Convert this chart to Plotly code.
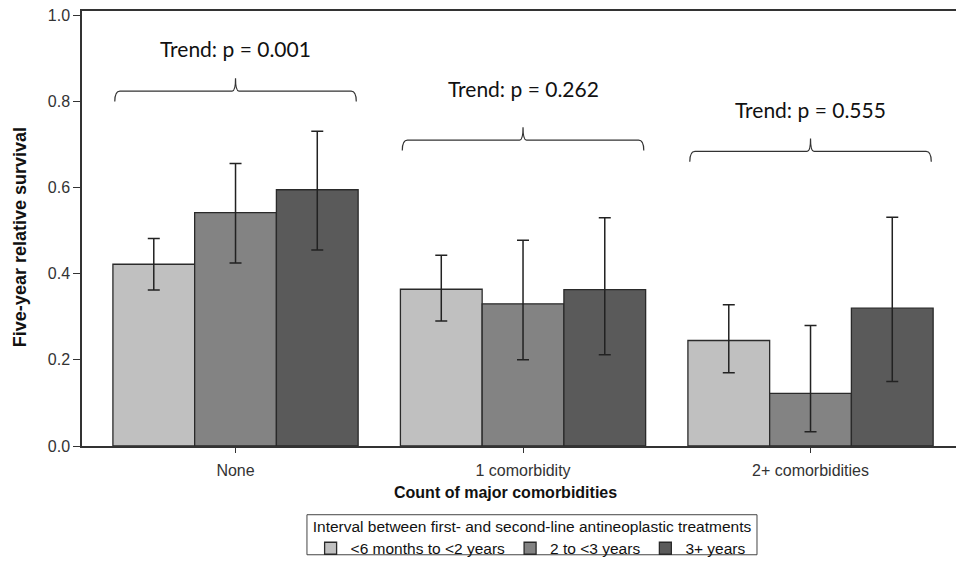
import plotly.graph_objects as go

categories = ["None", "1 comorbidity", "2+ comorbidities"]
series_names = ["<6 months to <2 years", "2 to <3 years", "3+ years"]
survival_lt2 = [0.422, 0.364, 0.245]
survival_2to3 = [0.542, 0.330, 0.122]
survival_3plus = [0.595, 0.363, 0.320]
ci_low_lt2 = [0.362, 0.290, 0.170]
ci_high_lt2 = [0.482, 0.443, 0.328]
ci_low_2to3 = [0.425, 0.200, 0.033]
ci_high_2to3 = [0.656, 0.478, 0.280]
ci_low_3plus = [0.455, 0.212, 0.150]
ci_high_3plus = [0.731, 0.530, 0.531]
trend_labels = ["Trend: p = 0.001", "Trend: p = 0.262", "Trend: p = 0.555"]
brace_levels = [0.824, 0.710, 0.684]
trend_text_levels = [0.923, 0.830, 0.782]

colors = ["#c0c0c0", "#838383", "#5a5a5a"]
AX_FONT = "Liberation Sans"

xs = list(range(len(categories)))
fig = go.Figure()
for name, vals, lo, hi, col in [
    (series_names[0], survival_lt2, ci_low_lt2, ci_high_lt2, colors[0]),
    (series_names[1], survival_2to3, ci_low_2to3, ci_high_2to3, colors[1]),
    (series_names[2], survival_3plus, ci_low_3plus, ci_high_3plus, colors[2]),
]:
    fig.add_trace(go.Bar(
        x=xs, y=vals, name=name,
        marker=dict(color=col, line=dict(color="#2a2a2a", width=1.3)),
        error_y=dict(type="data", symmetric=False,
                     array=[h - v for h, v in zip(hi, vals)],
                     arrayminus=[v - l for v, l in zip(vals, lo)],
                     color="#222222", thickness=1.5, width=6),
    ))

half = 0.42
for i, (lab, yb, yt) in enumerate(zip(trend_labels, brace_levels, trend_text_levels)):
    x0, x1, xc = i - half, i + half, i
    drop, rise, cx = 0.024, 0.03, 0.018
    path = (f"M {x0},{yb - drop} Q {x0},{yb} {x0 + cx},{yb} "
            f"L {xc - 0.012},{yb} Q {xc},{yb} {xc},{yb + rise} "
            f"Q {xc},{yb} {xc + 0.012},{yb} "
            f"L {x1 - cx},{yb} Q {x1},{yb} {x1},{yb - drop}")
    fig.add_shape(type="path", path=path, xref="x", yref="y",
                  line=dict(color="#333333", width=1.2))
    fig.add_annotation(x=xc, y=yt, xref="x", yref="y", text=lab,
                       showarrow=False,
                       font=dict(family="Lato", size=21, color="#111111"))

# axis titles placed as annotations to match the reference positions
fig.add_annotation(x=0.485, y=-0.108, xref="paper", yref="paper",
                   text="<b>Count of major comorbidities</b>", showarrow=False,
                   xanchor="center", yanchor="middle",
                   font=dict(family=AX_FONT, size=16, color="#111111"))
fig.add_annotation(x=-0.071, y=0.48, xref="paper", yref="paper",
                   text="<b>Five-year relative survival</b>", showarrow=False,
                   textangle=-90, xanchor="center", yanchor="middle",
                   font=dict(family=AX_FONT, size=18, color="#111111"))

# legend frame
fig.add_shape(type="rect", xref="paper", yref="paper",
              x0=0.2574, x1=0.7723, y0=-0.250, y1=-0.158,
              line=dict(color="#444444", width=1), fillcolor="rgba(0,0,0,0)")

fig.update_layout(
    width=956, height=563,
    margin=dict(l=82, r=0, t=11, b=117, autoexpand=False),
    paper_bgcolor="white", plot_bgcolor="white",
    barmode="group", bargap=0.147, bargroupgap=0,
    font=dict(family=AX_FONT, size=16, color="#333333"),
    xaxis=dict(
        range=[-0.534, 2.506], tickvals=xs, ticktext=categories,
        showline=True, linecolor="#333333", linewidth=1.5, mirror=True,
        ticks="outside", ticklen=5, tickcolor="#333333",
        showgrid=False, zeroline=False, automargin=False,
        ticklabelstandoff=4,
        tickfont=dict(family=AX_FONT, size=16, color="#333333"),
    ),
    yaxis=dict(
        range=[0, 1.01], tickvals=[0, 0.2, 0.4, 0.6, 0.8, 1.0],
        ticktext=["0.0", "0.2", "0.4", "0.6", "0.8", "1.0"],
        showline=True, linecolor="#333333", linewidth=1.5,
        ticks="outside", ticklen=7, tickcolor="#333333",
        showgrid=False, zeroline=False, automargin=False,
        tickfont=dict(family=AX_FONT, size=16, color="#333333"),
    ),
    legend=dict(
        orientation="h", x=0.515, xanchor="center", y=-0.1506, yanchor="top",
        borderwidth=0, bgcolor="rgba(0,0,0,0)",
        font=dict(family=AX_FONT, size=15.5, color="#111111"),
        title=dict(text="Interval between first- and second-line antineoplastic treatments",
                   side="top center",
                   font=dict(family=AX_FONT, size=15.5, color="#111111")),
        itemwidth=30, tracegroupgap=0,
    ),
    showlegend=True,
)

fig.write_html("out.html", config={"displayModeBar": False},
               post_script="document.body.style.margin='0';document.body.style.overflow='hidden';")
